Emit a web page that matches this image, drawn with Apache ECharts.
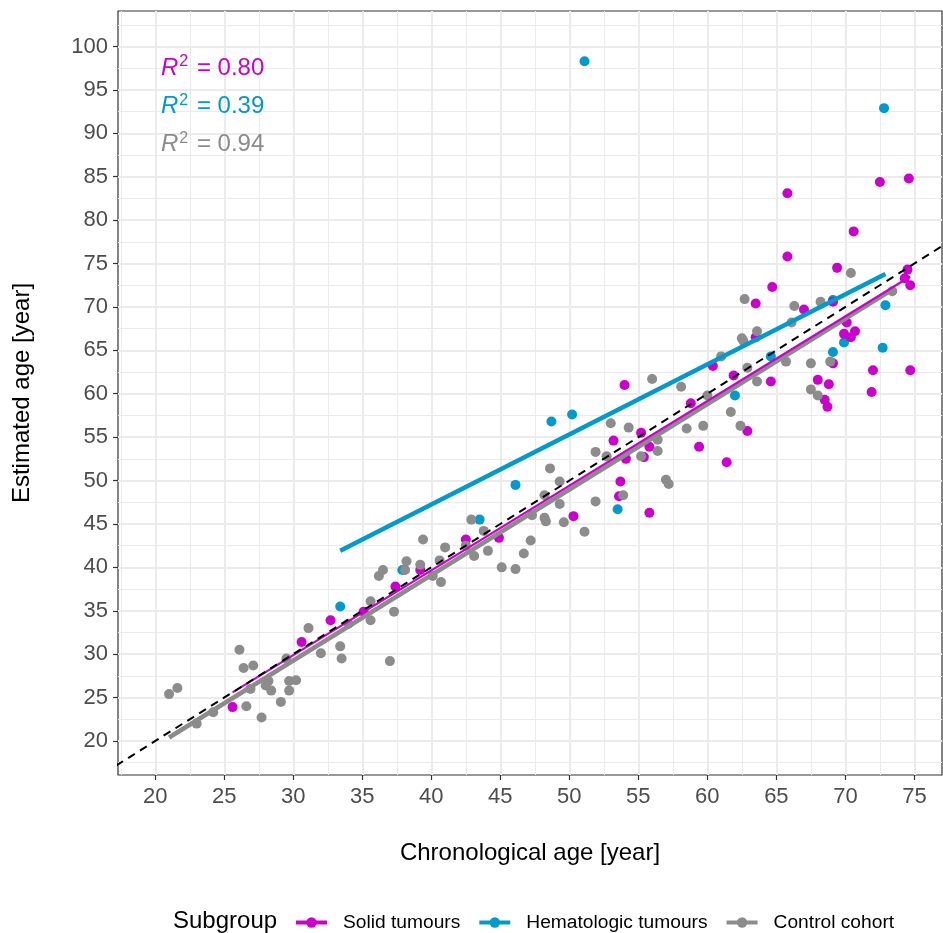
<!DOCTYPE html>
<html>
<head>
<meta charset="utf-8">
<script src="https://cdn.jsdelivr.net/npm/echarts@6/dist/echarts.min.js"></script>
<style>
  html, body { margin: 0; padding: 0; background: #ffffff; }
  #chart { width: 943px; height: 933px; }
</style>
</head>
<body>
<div id="chart"></div>
<script>
// Chronological vs. estimated age, by subgroup
const solidX = [25.6, 30.6, 32.7, 35.1, 37.4, 39.2, 42.5, 44.9, 50.3, 53.2, 54.0, 55.2, 55.8, 54.1, 55.4, 53.7, 53.6, 55.8,
  58.8, 59.4, 61.4, 60.4, 61.9, 62.9, 64.6, 63.5, 63.5, 65.8, 72.5, 74.6, 70.6, 65.8, 64.7, 69.4, 67.0, 69.1, 74.5, 74.3,
  74.7, 70.1, 70.7, 69.9, 70.4, 72.0, 74.7, 71.9, 68.0, 68.8, 68.5, 68.7, 69.1];
const solidY = [23.9, 31.4, 33.9, 34.9, 37.8, 39.7, 43.2, 43.4, 45.9, 54.6, 61.0, 55.5, 53.9, 52.5, 52.7, 49.9, 48.2, 46.3,
  58.9, 53.9, 52.1, 63.2, 62.1, 55.7, 61.4, 66.5, 70.4, 83.1, 84.4, 84.8, 78.7, 75.8, 72.3, 74.5, 69.7, 70.6, 74.3, 73.3,
  72.5, 68.2, 67.2, 66.9, 66.5, 62.7, 62.7, 60.2, 61.6, 61.1, 59.3, 58.5, 63.5];

const hemaX = [51.1, 72.8, 33.4, 37.9, 43.5, 46.1, 48.7, 50.2, 53.5, 62.0, 64.6, 72.9, 72.7, 69.9, 69.1, 69.1];
const hemaY = [98.3, 92.9, 35.5, 39.7, 45.5, 49.5, 56.8, 57.6, 46.7, 59.8, 64.3, 70.2, 65.3, 65.9, 64.8, 70.8];

const controlX = [21.0, 21.6, 23.0, 24.2, 26.1, 26.4, 27.1, 26.9, 26.6, 27.7, 28.2, 28.4, 28.0, 29.1, 29.5, 29.7, 29.7,
  30.2, 31.1, 32.0, 33.4, 33.5, 34.0, 35.6, 35.6, 36.2, 36.5, 37.0, 37.3, 38.2, 38.1, 39.2, 39.4, 40.1, 40.7, 40.6, 41.0,
  42.9, 43.8, 44.1, 43.1, 42.5, 45.1, 46.1, 46.7, 47.2, 47.3, 48.2, 48.3, 48.2, 49.3, 48.6, 49.3, 49.6, 51.1, 51.9, 51.9,
  52.7, 53.0, 54.3, 53.9, 55.2, 56.4, 56.4, 56.0, 57.0, 57.2, 58.1, 58.5, 59.7, 60.0, 61.0, 61.7, 62.4, 62.5, 63.6, 62.6,
  63.6, 62.9, 65.7, 66.1, 67.5, 67.5, 62.7, 66.3, 68.2, 68.9, 68.0, 70.4, 73.4];
const controlY = [25.4, 26.1, 22.0, 23.3, 30.5, 28.4, 28.7, 26.0, 24.0, 22.7, 26.9, 25.8, 26.4, 24.5, 29.5, 25.8, 26.9,
  27.0, 33.0, 30.1, 30.9, 29.5, 33.5, 36.1, 33.9, 39.0, 39.7, 29.2, 34.9, 40.7, 39.7, 40.3, 43.2, 39.0, 38.3, 40.8, 42.3,
  45.5, 44.2, 41.9, 41.3, 42.5, 40.0, 39.8, 41.6, 43.1, 46.0, 45.7, 45.3, 48.3, 49.9, 51.4, 47.3, 45.2, 44.1, 47.6, 53.3,
  52.8, 56.6, 56.1, 48.3, 52.8, 53.4, 54.7, 61.7, 50.1, 49.6, 60.8, 56.0, 56.3, 59.8, 64.3, 57.9, 56.3, 66.4, 67.2, 66.1,
  61.4, 63.0, 63.7, 68.2, 63.5, 60.5, 70.9, 70.1, 70.6, 63.7, 59.8, 73.9, 71.8];

// Fitted linear trend per subgroup (start / end of each fit)
const solidFitX = [25.6, 74.7];
const solidFitY = [25.6, 73.5];
const hemaFitX = [33.4, 72.9];
const hemaFitY = [41.9, 73.8];
const controlFitX = [21.0, 73.4];
const controlFitY = [20.4, 72.0];

// Identity reference (estimated = chronological)
const identityX = [0, 120];

const r2Labels = ['0.80', '0.39', '0.94'];
const subgroups = ['Solid tumours', 'Hematologic tumours', 'Control cohort'];
const colors = ['#CC00CC', '#009ACD', '#8C8C8C'];

const xTicks = [20, 25, 30, 35, 40, 45, 50, 55, 60, 65, 70, 75];
const yTicks = [20, 25, 30, 35, 40, 45, 50, 55, 60, 65, 70, 75, 80, 85, 90, 95, 100];
const xMinor = [17.5, 22.5, 27.5, 32.5, 37.5, 42.5, 47.5, 52.5, 57.5, 62.5, 67.5, 72.5];
const yMinor = [17.5, 22.5, 27.5, 32.5, 37.5, 42.5, 47.5, 52.5, 57.5, 62.5, 67.5, 72.5, 77.5, 82.5, 87.5, 92.5, 97.5, 102.5];

const FONT = 'Liberation Sans, Arial, Helvetica, sans-serif';
const X_MIN = 17.3, X_MAX = 77.0, Y_MIN = 16.08, Y_MAX = 104.09;

const zip = (xs, ys) => xs.map((x, i) => [x, ys[i]]);

const chart = echarts.init(document.getElementById('chart'), null, { renderer: 'canvas' });

function fitSeries(name, xs, ys, color, width, z) {
  return {
    name, type: 'line', data: zip(xs, ys),
    symbol: 'circle', showSymbol: false, symbolSize: 10,
    itemStyle: { color },
    lineStyle: { color, width },
    z, silent: true, animation: false
  };
}
function pointSeries(name, xs, ys, color, z) {
  return {
    name, type: 'scatter', data: zip(xs, ys),
    symbol: 'circle', symbolSize: 10,
    itemStyle: { color, opacity: 1 },
    z, animation: false
  };
}

const r2Graphics = r2Labels.map((v, i) => ({
  type: 'text', left: 161, top: 54 + i * 38.3,
  style: {
    text: '{r|R}{s|2}{t| = ' + v + '}',
    rich: {
      r: { fontFamily: FONT, fontSize: 24, fontStyle: 'italic', fill: colors[i], lineHeight: 28 },
      s: { fontFamily: FONT, fontSize: 16, fill: colors[i], verticalAlign: 'top', lineHeight: 28, padding: [0, 2, 14, 1] },
      t: { fontFamily: FONT, fontSize: 24, fill: colors[i], lineHeight: 28 }
    }
  },
  z: 10
}));

const option = {
  backgroundColor: '#ffffff',
  animation: false,
  textStyle: { fontFamily: FONT },
  grid: { left: 118, right: 1, top: 11, bottom: 158, show: true, borderColor: '#333333', borderWidth: 1.2, containLabel: false },
  xAxis: [
    {
      type: 'value', min: X_MIN, max: X_MAX,
      name: 'Chronological age [year]', nameLocation: 'middle', nameGap: 66,
      nameTextStyle: { fontSize: 24, color: '#000000', fontFamily: FONT },
      axisLine: { show: false },
      axisTick: { show: true, length: 5, lineStyle: { color: '#333333', width: 1.2 }, customValues: xTicks },
      axisLabel: { customValues: xTicks, fontSize: 22, color: '#4D4D4D', margin: 11, fontFamily: FONT },
      splitLine: { show: true, lineStyle: { color: '#EBEBEB', width: 2 } }
    },
    {
      type: 'value', min: X_MIN, max: X_MAX, position: 'bottom',
      axisLine: { show: false },
      axisTick: { show: false, customValues: xMinor },
      axisLabel: { show: false },
      splitLine: { show: true, lineStyle: { color: '#EBEBEB', width: 1 } }
    }
  ],
  yAxis: [
    {
      type: 'value', min: Y_MIN, max: Y_MAX,
      name: 'Estimated age [year]', nameLocation: 'middle', nameGap: 84,
      nameTextStyle: { fontSize: 24, color: '#000000', fontFamily: FONT },
      axisLine: { show: false },
      axisTick: { show: true, length: 5, lineStyle: { color: '#333333', width: 1.2 }, customValues: yTicks },
      axisLabel: { customValues: yTicks, fontSize: 22, color: '#4D4D4D', margin: 10, fontFamily: FONT },
      splitLine: { show: true, lineStyle: { color: '#EBEBEB', width: 2 } }
    },
    {
      type: 'value', min: Y_MIN, max: Y_MAX, position: 'left',
      axisLine: { show: false },
      axisTick: { show: false, customValues: yMinor },
      axisLabel: { show: false },
      splitLine: { show: true, lineStyle: { color: '#EBEBEB', width: 1 } }
    }
  ],
  legend: {
    data: subgroups,
    left: 289, top: 908,
    orient: 'horizontal',
    itemWidth: 31, itemHeight: 13, itemGap: 17,
    lineStyle: { width: 4 },
    textStyle: { fontSize: 19.2, color: '#000000', fontFamily: FONT, padding: [0, 0, 0, 11] },
    selectedMode: false
  },
  graphic: [
    {
      type: 'text', left: 173, top: 909,
      style: { text: 'Subgroup', fontFamily: FONT, fontSize: 24, fill: '#000000' }
    },
    ...r2Graphics
  ],
  series: [
    fitSeries(subgroups[0], solidFitX, solidFitY, colors[0], 2.2, 6),
    fitSeries(subgroups[1], hemaFitX, hemaFitY, colors[1], 4.5, 5),
    fitSeries(subgroups[2], controlFitX, controlFitY, colors[2], 4.5, 5),
    pointSeries(subgroups[1], hemaX, hemaY, colors[1], 2),
    pointSeries(subgroups[0], solidX, solidY, colors[0], 3),
    pointSeries(subgroups[2], controlX, controlY, colors[2], 4),
    {
      name: 'identity', type: 'line', data: identityX.map(v => [v, v]),
      symbol: 'none', clip: true, silent: true,
      lineStyle: { color: '#000000', width: 2, type: [8, 6] },
      z: 7
    }
  ]
};

chart.setOption(option);
</script>
</body>
</html>
